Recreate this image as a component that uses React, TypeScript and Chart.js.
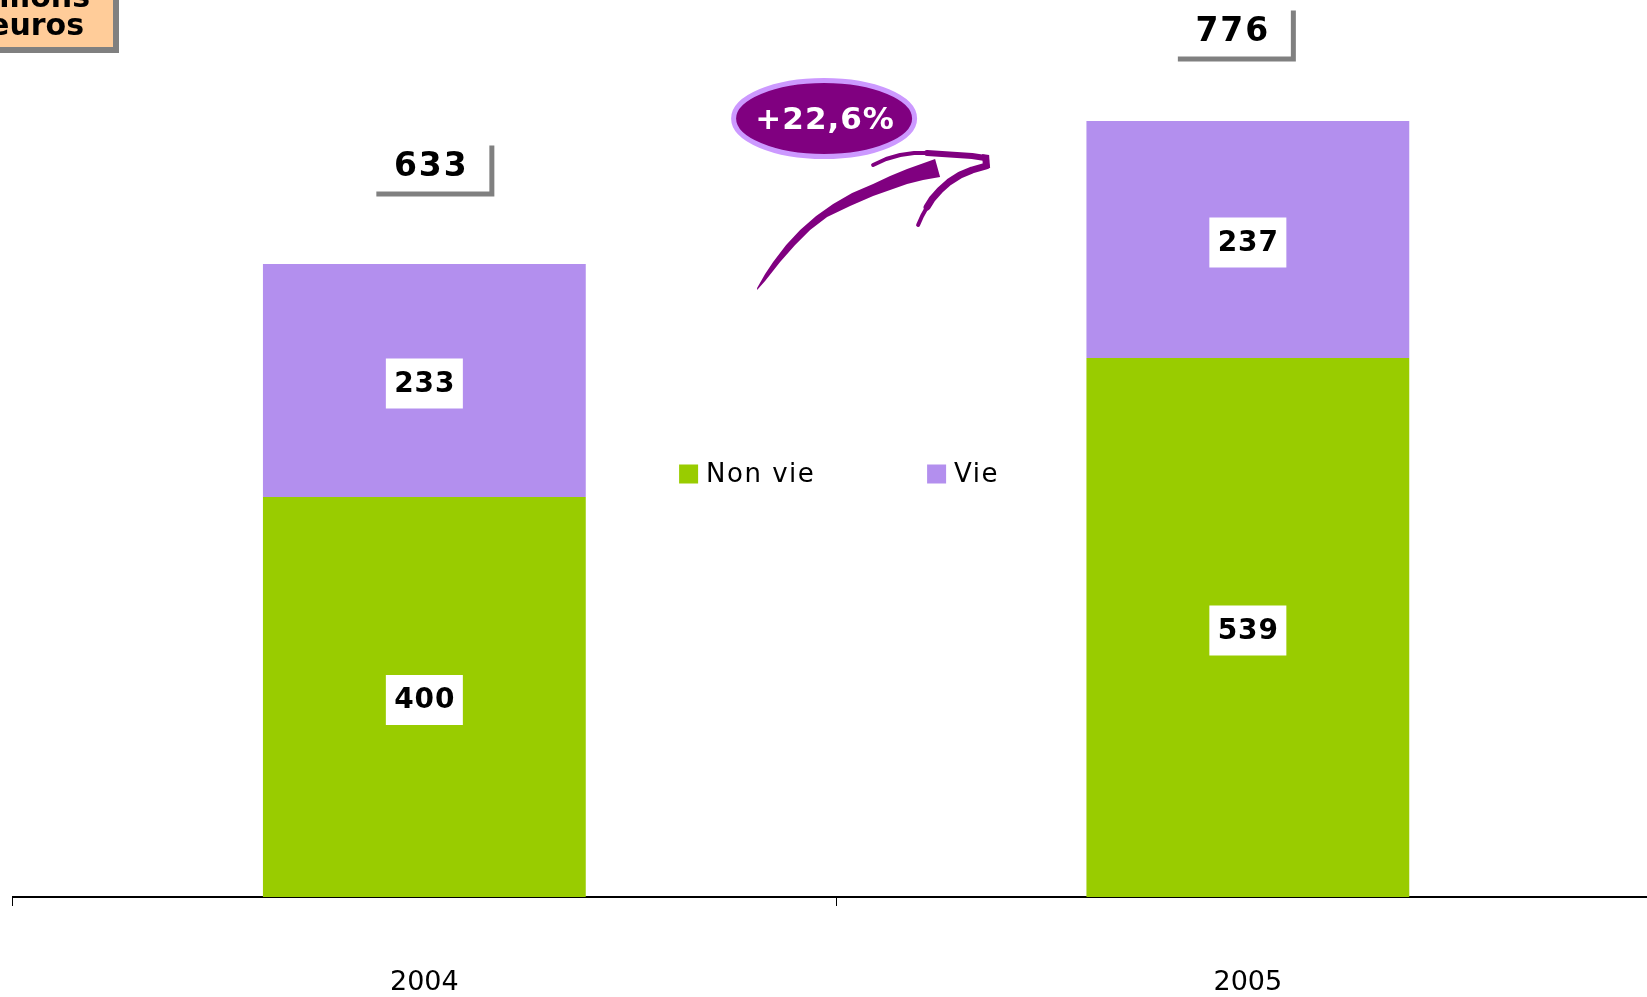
import React, { useEffect, useRef } from "react";
import { Chart, registerables } from "chart.js";

Chart.register(...registerables);

const categories = ["2004", "2005"];
const seriesNames = ["Non vie", "Vie"];
const nonVie = [400, 539];
const vie = [233, 237];
const totals = [633, 776];
const growthLabel = "+22,6%";
const unitLines = ["millions", "d'euros"];

// style: offsets of the total callouts relative to the top of each stack (px)
const totalShiftX = [6, -16];
const totalShiftY = [-98, -90];

const GREEN = "#99CC00";
const PURPLE = "#B38FEE";
const BADGE = "#800080";
const BADGE_RING = "#CC99FF";
const SHADOW = "#808080";
const PEACH = "#FFCC99";
const FONT = "'DejaVu Sans', Verdana, sans-serif";

function poly(ctx: CanvasRenderingContext2D, pts: number[][], ox: number, oy: number) {
  ctx.beginPath();
  pts.forEach((p, i) => (i === 0 ? ctx.moveTo(p[0] + ox, p[1] + oy) : ctx.lineTo(p[0] + ox, p[1] + oy)));
}

const decor = {
  id: "decor",
  afterDatasetsDraw(chart: any) {
    const ctx: CanvasRenderingContext2D = chart.ctx;
    const ca = chart.chartArea;
    const xs = chart.scales.x;
    const midX = (xs.getPixelForValue(0) + xs.getPixelForValue(1)) / 2;
    ctx.save();

    // segment value labels
    chart.data.datasets.forEach((ds: any, di: number) => {
      const meta = chart.getDatasetMeta(di);
      meta.data.forEach((el: any, i: number) => {
        const cx = el.x;
        const cy = (el.y + el.base) / 2 + 3;
        ctx.fillStyle = "#ffffff";
        ctx.fillRect(cx - 38.5, cy - 25, 77, 50);
        ctx.fillStyle = "#000000";
        ctx.font = `bold 28px ${FONT}`;
        (ctx as any).letterSpacing = "1px";
        ctx.textAlign = "center";
        ctx.textBaseline = "middle";
        ctx.fillText(String(ds.data[i]), cx + 0.5, cy + 1);
      });
    });

    // total labels with shadow boxes
    const topMeta = chart.getDatasetMeta(chart.data.datasets.length - 1);
    topMeta.data.forEach((el: any, i: number) => {
      const cx = el.x + totalShiftX[i];
      const cy = el.y + totalShiftY[i];
      ctx.fillStyle = SHADOW;
      ctx.fillRect(cx - 59 + 5, cy - 25.5 + 5, 118, 51);
      ctx.fillStyle = "#ffffff";
      ctx.fillRect(cx - 59, cy - 25.5, 118, 51);
      ctx.fillStyle = "#000000";
      ctx.font = `bold 33px ${FONT}`;
      (ctx as any).letterSpacing = "2px";
      ctx.textAlign = "center";
      ctx.textBaseline = "middle";
      ctx.fillText(String(totals[i]), cx + 1, cy + 1);
    });

    // legend
    ctx.font = `26px ${FONT}`;
    (ctx as any).letterSpacing = "1.5px";
    ctx.textAlign = "left";
    ctx.textBaseline = "middle";
    const legY = ca.top + 474;
    chart.data.datasets.forEach((ds: any, di: number) => {
      const sx = midX - 157 + di * 248;
      ctx.fillStyle = ds.backgroundColor;
      ctx.fillRect(sx, legY - 9.5, 19, 19);
      ctx.fillStyle = "#000000";
      ctx.fillText(ds.label, sx + 27, legY + 1);
    });

    // growth badge
    const bx = midX - 12;
    const by = ca.top + 118.5;
    ctx.beginPath();
    ctx.ellipse(bx, by, 90.5, 38, 0, 0, Math.PI * 2);
    ctx.fillStyle = BADGE;
    ctx.fill();
    ctx.lineWidth = 5;
    ctx.strokeStyle = BADGE_RING;
    ctx.stroke();
    ctx.fillStyle = "#ffffff";
    ctx.font = `bold 31px ${FONT}`;
    (ctx as any).letterSpacing = "1px";
    ctx.textAlign = "center";
    ctx.textBaseline = "middle";
    ctx.fillText(growthLabel, bx + 1, by + 2);

    // brush arrow (relative to the gap between categories)
    const ox = midX - 836;
    const oy = ca.top;
    ctx.fillStyle = BADGE;
    ctx.strokeStyle = BADGE;
    const upper = [
      [757, 288], [765, 274], [773, 262], [786, 245], [800, 230], [816, 216], [833, 204], [852, 193],
      [873, 184], [890, 176], [907, 169], [921, 164], [935, 159],
    ];
    const lower = [
      [940, 177], [923, 180], [907, 184], [890, 190], [873, 196], [850, 206], [827, 217], [810, 230],
      [795, 245], [780, 262], [765, 281], [757, 290],
    ];
    poly(ctx, upper.concat(lower), ox, oy);
    ctx.closePath();
    ctx.fill();

    ctx.lineCap = "round";
    ctx.lineJoin = "round";
    ctx.lineWidth = 4;
    poly(ctx, [[873, 165], [886, 159], [900, 155], [914, 153], [927, 153]], ox, oy);
    ctx.stroke();
    ctx.lineWidth = 6;
    poly(ctx, [[927, 153], [942, 154], [957, 155], [972, 156], [985, 158]], ox, oy);
    ctx.stroke();
    poly(ctx, [[982, 154], [989, 155], [990, 168], [983, 169]], ox, oy);
    ctx.closePath();
    ctx.fill();
    ctx.lineWidth = 7;
    poly(ctx, [[986, 166], [972, 170], [960, 175], [949, 182], [940, 190], [932, 199], [927, 207]], ox, oy);
    ctx.stroke();
    ctx.lineWidth = 4;
    poly(ctx, [[927, 207], [922, 216], [918, 225]], ox, oy);
    ctx.stroke();

    // unit box (top-left)
    ctx.fillStyle = SHADOW;
    ctx.fillRect(-20 + 6, -20 + 6, 133, 67);
    ctx.fillStyle = PEACH;
    ctx.fillRect(-20, -20, 133, 67);
    ctx.fillStyle = "#000000";
    ctx.font = `bold 30px ${FONT}`;
    (ctx as any).letterSpacing = "0px";
    ctx.textAlign = "right";
    ctx.textBaseline = "alphabetic";
    ctx.fillText(unitLines[0], 90, 7);
    ctx.fillText(unitLines[1], 84, 35);

    ctx.restore();
  },
};

export default function App() {
  const ref = useRef<HTMLCanvasElement | null>(null);

  useEffect(() => {
    document.body.style.margin = "0";
    const canvas = ref.current!;
    const chart = new Chart(canvas, {
      type: "bar",
      data: {
        labels: categories,
        datasets: [
          { label: seriesNames[0], data: nonVie, backgroundColor: GREEN, borderWidth: 0 },
          { label: seriesNames[1], data: vie, backgroundColor: PURPLE, borderWidth: 0 },
        ],
      },
      options: {
        responsive: false,
        animation: false,
        devicePixelRatio: 1,
        layout: { padding: { left: 12.6, right: 5.4, top: 0, bottom: 0 } },
        datasets: { bar: { categoryPercentage: 1, barPercentage: 0.392 } },
        plugins: { legend: { display: false }, tooltip: { enabled: false } },
        scales: {
          x: {
            stacked: true,
            offset: true,
            afterFit: (scale: any) => {
              scale.height = 100;
            },
            grid: {
              display: true,
              offset: true,
              drawOnChartArea: false,
              drawTicks: true,
              tickLength: 9,
              color: "#000000",
              lineWidth: 1,
            },
            border: { display: true, color: "#000000", width: 2 },
            ticks: {
              color: "#000000",
              padding: 61,
              font: { family: "'DejaVu Sans', Verdana, sans-serif", size: 27 },
              maxRotation: 0,
            },
          },
          y: {
            stacked: true,
            display: false,
            min: 0,
            max: 897,
          },
        },
      },
      plugins: [decor],
    });
    return () => chart.destroy();
  }, []);

  return (
    <div style={{ position: "fixed", left: 0, top: 0, width: 1647, height: 997, overflow: "hidden", background: "#fff" }}>
      <canvas ref={ref} width={1665} height={997} style={{ display: "block" }} />
    </div>
  );
}
